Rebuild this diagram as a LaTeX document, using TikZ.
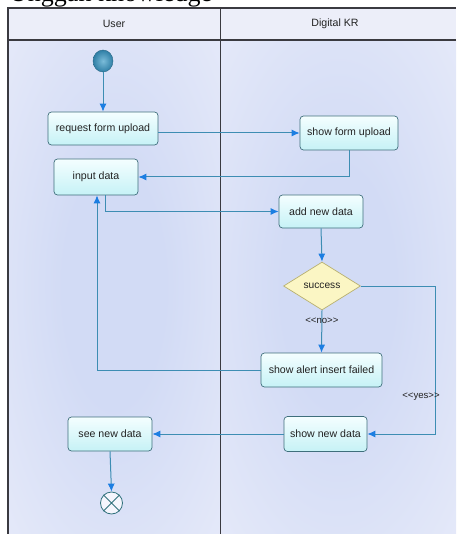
\documentclass[tikz,border=0pt]{standalone}
\usepackage{fontspec}
\setmainfont{Liberation Serif}
\setsansfont{Liberation Sans}
\usetikzlibrary{shapes.geometric,arrows.meta}
\definecolor{laneout}{HTML}{EEF0FB}
\definecolor{lanein}{HTML}{D2DBF5}
\definecolor{headfill}{HTML}{ECEEF9}
\definecolor{frame}{HTML}{3A3A40}
\definecolor{boxline}{HTML}{3F6F7C}
\definecolor{boxtop}{HTML}{F4FEFF}
\definecolor{boxbot}{HTML}{C6F2F6}
\definecolor{flow}{HTML}{3D8DB3}
\definecolor{tip}{HTML}{1C7EE2}
\definecolor{decfill}{HTML}{FBF6C4}
\definecolor{decline}{HTML}{B8B070}
\definecolor{txt}{HTML}{222222}
\definecolor{ballin}{HTML}{7BBCD9}
\definecolor{ballout}{HTML}{2F7FA6}
\pgfdeclareradialshading{laneglow}{\pgfpoint{0bp}{0bp}}{%
  color(0bp)=(lanein); color(12bp)=(lanein); color(48bp)=(laneout); color(50bp)=(laneout)}
\tikzset{
  actbox/.style={draw=boxline, line width=0.7pt, rounded corners=3.5pt,
    top color=boxtop, bottom color=boxbot, text=txt,
    font=\sffamily\fontsize{10.6}{12}\selectfont, inner sep=2pt},
  decbox/.style={diamond, draw=decline, line width=0.7pt, fill=decfill,
    text=txt, font=\sffamily\fontsize{10.2}{12}\selectfont, inner sep=0pt,
    minimum width=77pt, minimum height=48pt},
  flowline/.style={draw=flow, line width=1pt,
    -{Latex[length=8pt,width=7pt,color=tip]}},
  guard/.style={text=txt, font=\sffamily\fontsize{9.6}{11}\selectfont, inner sep=1pt},
  lanehead/.style={text=txt, font=\sffamily\fontsize{10.6}{12}\selectfont}
}
\newcommand{\guardtext}[1]{\textless{}\textless{}#1\textgreater{}\textgreater{}}
\begin{document}
\begin{tikzpicture}[x=1pt,y=-1pt]
\useasboundingbox (0,0) rectangle (456,534);
\clip (0,0) rectangle (456,534);

% caption above the swimlanes
\node[anchor=base west, inner sep=0pt, font=\fontsize{26}{28}\selectfont] (caption) at (9,1.5) {Unggah knowledge};

% swimlane backgrounds
\fill[laneout] (8,40) rectangle (220,534);
\fill[laneout] (220,40) rectangle (456,534);
\shade[shading=laneglow] (8,40) rectangle (220,534);
\shade[shading=laneglow] (220,40) rectangle (456,534);

% header row
\fill[headfill] (8,8) rectangle (456,40);
\node[lanehead] (userhead) at (114,24) {User};
\node[lanehead] (krhead) at (335,24) {Digital KR};

% frame and lane divider
\draw[frame, line width=1.2pt] (8,534) -- (8,8) -- (456,8);
\draw[frame, line width=1.4pt] (8,40) -- (456,40);
\draw[frame, line width=1pt] (220,8) -- (220,534);

% initial and final nodes
\shade[inner color=ballin, outer color=ballout, draw=ballout!80!black, line width=0.4pt]
  (103,61) ellipse (10pt and 11pt);
\coordinate (startpt) at (103,72);
\node[circle, draw=boxline!80!teal, line width=0.8pt, fill=laneout!60!white,
  minimum size=22pt, inner sep=0pt] (final) at (111.5,503) {};
\draw[boxline!80!teal, line width=0.8pt] (final.north west) -- (final.south east)
  (final.north east) -- (final.south west);

% activities
\node[actbox, minimum width=110pt, minimum height=33pt] (req) at (103,128.5) {request form upload};
\node[actbox, minimum width=84pt, minimum height=36pt] (input) at (96,177) {input data};
\node[actbox, minimum width=98pt, minimum height=34pt] (showform) at (349,133) {show form upload};
\node[actbox, minimum width=84pt, minimum height=33pt] (add) at (321,211.5) {add new data};
\node[decbox] (succ) at (322,286) {success};
\node[actbox, minimum width=121pt, minimum height=34pt] (alert) at (321.5,370) {show alert insert failed};
\node[actbox, minimum width=83pt, minimum height=35pt] (shownew) at (325.5,434) {show new data};
\node[actbox, minimum width=84pt, minimum height=34pt] (seenew) at (110,434) {see new data};

% control flows
\draw[flowline] (startpt) -- (req.north);
\draw[flowline] (req.east |- showform.west) -- (showform.west);
\draw[flowline] (showform.south) |- (input.east);
\draw[flowline] ([xshift=9pt]input.south) |- (add.west);
\draw[flowline] (add.south) -- (succ.north);
\draw[flowline] (succ.south) -- node[guard, pos=0.25] (noguard) {\guardtext{no}} (alert.north);
\draw[flowline] (alert.west) -| ([xshift=1pt]input.south);
\coordinate (yesbend) at (435,286);
\draw[flowline] (succ.east) -- (yesbend) |- (shownew.east);
\node[guard] (yesguard) at (421,397) {\guardtext{yes}};
\draw[flowline] (shownew.west) -- (seenew.east);
\draw[flowline] (seenew.south) -- (final.north);
\end{tikzpicture}
\end{document}
